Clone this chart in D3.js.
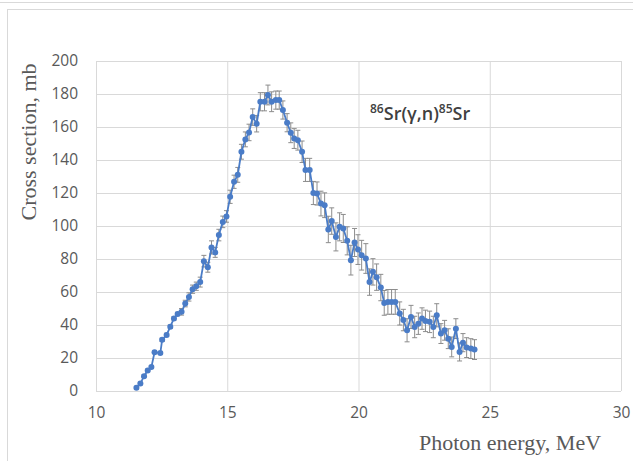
<!DOCTYPE html>
<html>
<head>
<meta charset="utf-8">
<script src="https://cdn.jsdelivr.net/npm/d3@7"></script>
<style>
  body { margin: 0; background: #fff; }
  svg { display: block; }
</style>
</head>
<body>
<script>
// photon energy (MeV), cross section (mb) and its error
var energy = [11.54, 11.69, 11.83, 11.97, 12.11, 12.23, 12.45, 12.52, 12.69, 12.83,
              12.97, 13.11, 13.26, 13.40, 13.54, 13.68, 13.82, 13.97, 14.11, 14.26,
              14.40, 14.54, 14.68, 14.83, 14.97, 15.11, 15.26, 15.40, 15.54, 15.69,
              15.83, 15.97, 16.12, 16.26, 16.42, 16.55, 16.69, 16.85, 16.98, 17.12,
              17.28, 17.42, 17.55, 17.69, 17.85, 17.98, 18.14, 18.28, 18.42, 18.57,
              18.71, 18.85, 18.98, 19.14, 19.28, 19.42, 19.57, 19.71, 19.85, 19.98,
              20.12, 20.28, 20.42, 20.55, 20.69, 20.85, 20.98, 21.12, 21.26, 21.40,
              21.57, 21.71, 21.85, 22.00, 22.14, 22.28, 22.42, 22.55, 22.71, 22.85,
              22.98, 23.14, 23.28, 23.42, 23.55, 23.71, 23.85, 23.98, 24.12, 24.28,
              24.42];
var sigma = [2, 4.5, 9, 12.5, 14.5, 23.5, 23, 31, 34, 39,
             44, 46.7, 48, 53, 57, 61.7, 63.5, 66, 78.7, 75,
             87, 84, 94.5, 102.5, 105.8, 117.7, 126.8, 131, 145, 152.5,
             156.7, 166, 162, 175.3, 175.3, 179.4, 175.3, 176.3, 176.3, 170.3,
             162.6, 156.5, 153, 152, 145, 134, 134, 120, 119.7, 113.6,
             112.6, 97.9, 103, 93.4, 99.5, 98.5, 91, 79.3, 90, 85.7,
             82.3, 80.3, 66, 72.2, 69, 62.7, 53.4, 54, 54, 54,
             47, 43, 36.8, 44.9, 38.8, 40.8, 43.9, 42.5, 41.9, 38.8,
             45.9, 34.8, 36.8, 31.7, 26.7, 37.8, 23.7, 29.3, 26.3, 25.7,
             25.1];
var sigmaErr = [0.8, 0.8, 0.8, 0.8, 0.8, 0.8, 0.8, 1, 1, 1,
                1, 1, 2, 2, 2.5, 2.5, 2.5, 3, 3.5, 3,
                4, 3, 3.5, 3.5, 3.5, 4, 4, 4.5, 4.5, 4.5,
                5, 5, 5, 5.5, 5.5, 6, 6, 5.5, 5.5, 5.5,
                5.5, 6, 6, 6, 6.5, 7, 7, 7, 7, 7.5,
                7.5, 8, 8, 8.5, 8.5, 8.5, 8.5, 9, 8.5, 9,
                9, 9, 8, 8, 8, 8, 7.5, 7.5, 7.5, 7.5,
                7, 6.5, 7, 7, 6.5, 6.5, 6.5, 6.5, 6.5, 6.5,
                7, 6, 6, 6, 6, 6, 5.5, 5.5, 6, 6,
                6];

var xTicks = [10, 15, 20, 25, 30];
var yTicks = [0, 20, 40, 60, 80, 100, 120, 140, 160, 180, 200];

var width = 633, height = 461;
var margin = {left: 96, right: 12, top: 61, bottom: 70};

var svg = d3.select("body").append("svg")
    .attr("width", width)
    .attr("height", height);

// chart frame
svg.append("line")
    .attr("x1", 0).attr("x2", width).attr("y1", 2.5).attr("y2", 2.5)
    .attr("stroke", "#d9d9d9");
svg.append("rect")
    .attr("x", 7.5).attr("y", 9.5)
    .attr("width", width + 10).attr("height", height + 10)
    .attr("fill", "#fff").attr("stroke", "#d9d9d9");

var x = d3.scaleLinear().domain([10, 30]).range([margin.left, width - margin.right]);
var y = d3.scaleLinear().domain([0, 200]).range([height - margin.bottom, margin.top]);

// gridlines
svg.append("g")
    .attr("transform", "translate(" + margin.left + ",0)")
    .call(d3.axisLeft(y).tickValues(yTicks).tickSize(-(x.range()[1] - x.range()[0])).tickFormat(""))
    .call(function(g) { g.select(".domain").remove(); })
    .selectAll("line").attr("stroke", "#d9d9d9");
svg.append("g")
    .attr("transform", "translate(0," + y(0) + ")")
    .call(d3.axisBottom(x).tickValues(xTicks).tickSize(-(y.range()[0] - y.range()[1])).tickFormat(""))
    .call(function(g) { g.select(".domain").remove(); })
    .selectAll("line").attr("stroke", "#d9d9d9");

// tick labels
var yAxis = svg.append("g")
    .attr("transform", "translate(" + margin.left + ",0)")
    .call(d3.axisLeft(y).tickValues(yTicks).tickSize(0).tickPadding(18));
yAxis.select(".domain").remove();
yAxis.selectAll("text")
    .attr("font-family", "Open Sans")
    .attr("font-size", "15.5px")
    .attr("fill", "#595959");

var xAxis = svg.append("g")
    .attr("transform", "translate(0," + y(0) + ")")
    .call(d3.axisBottom(x).tickValues(xTicks).tickSize(0).tickPadding(16));
xAxis.select(".domain").remove();
xAxis.selectAll("text")
    .attr("font-family", "Open Sans")
    .attr("font-size", "15.5px")
    .attr("fill", "#595959");

// axis titles
svg.append("text")
    .attr("transform", "translate(36,142) rotate(-90)")
    .attr("text-anchor", "middle")
    .attr("font-family", "Liberation Serif")
    .attr("font-size", "22px")
    .attr("fill", "#595959")
    .text("Cross section, mb");
svg.append("text")
    .attr("x", 510).attr("y", 450)
    .attr("text-anchor", "middle")
    .attr("font-family", "Liberation Serif")
    .attr("font-size", "22px")
    .attr("fill", "#595959")
    .text("Photon energy, MeV");

var data = energy.map(function(e, i) {
    return {e: e, s: sigma[i], err: sigmaErr[i]};
});

// error bars
var eb = svg.append("g").attr("stroke", "#8c8c8c").attr("stroke-width", 1);
data.forEach(function(d) {
    var cx = x(d.e);
    eb.append("line").attr("x1", cx).attr("x2", cx)
        .attr("y1", y(d.s - d.err)).attr("y2", y(d.s + d.err));
    eb.append("line").attr("x1", cx - 2.5).attr("x2", cx + 2.5)
        .attr("y1", y(d.s - d.err)).attr("y2", y(d.s - d.err));
    eb.append("line").attr("x1", cx - 2.5).attr("x2", cx + 2.5)
        .attr("y1", y(d.s + d.err)).attr("y2", y(d.s + d.err));
});

// series line and markers
var line = d3.line().x(function(d) { return x(d.e); }).y(function(d) { return y(d.s); });
svg.append("path")
    .datum(data)
    .attr("d", line)
    .attr("fill", "none")
    .attr("stroke", "#4a7cc7")
    .attr("stroke-width", 1.8);

svg.append("g").selectAll("circle")
    .data(data)
    .enter().append("circle")
    .attr("cx", function(d) { return x(d.e); })
    .attr("cy", function(d) { return y(d.s); })
    .attr("r", 3)
    .attr("fill", "#4a7cc7");

// reaction label
var lbl = svg.append("text")
    .attr("x", 370).attr("y", 120)
    .attr("font-family", "Open Sans")
    .attr("font-weight", 600)
    .attr("font-size", "18px")
    .attr("fill", "#404040");
lbl.append("tspan").attr("font-size", "12px").attr("dy", "-7").text("86");
lbl.append("tspan").attr("dy", "7").text("Sr(γ,n)");
lbl.append("tspan").attr("font-size", "12px").attr("dy", "-7").text("85");
lbl.append("tspan").attr("dy", "7").text("Sr");
</script>
</body>
</html>
